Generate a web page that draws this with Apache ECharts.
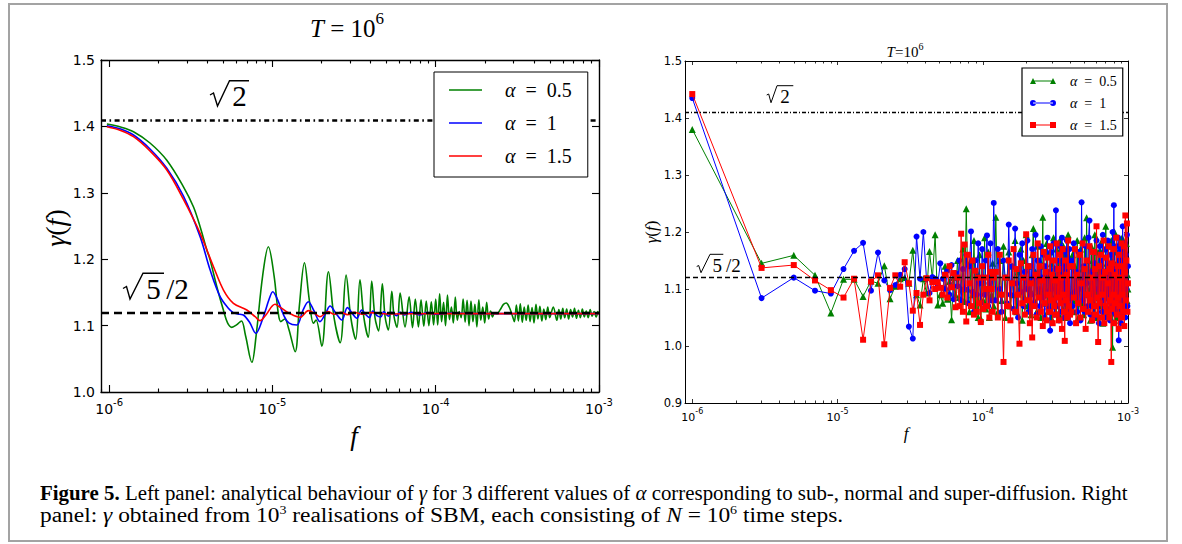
<!DOCTYPE html>
<html><head><meta charset="utf-8">
<script src="https://cdn.jsdelivr.net/npm/echarts@6/dist/echarts.min.js"></script>
<style>
html,body{margin:0;padding:0;background:#fff;}
#wrap{position:relative;width:1182px;height:544px;overflow:hidden;background:#fff;}
#chart{position:absolute;left:0;top:0;width:1182px;height:544px;}
#frame{position:absolute;left:8px;top:3px;width:1156px;height:535px;border:2px solid #a3a3a3;pointer-events:none;}
.cl{position:absolute;left:40px;font-family:'Liberation Serif',serif;font-size:20px;line-height:22px;white-space:nowrap;color:#000;transform-origin:0 0;}
.cl sup{font-size:12px;line-height:0;vertical-align:8px;}
</style></head><body>
<div id="wrap"><div id="chart"></div><div id="frame"></div>
<div class="cl" id="l1" style="top:482px;"><b>Figure 5.</b> Left panel: analytical behaviour of <i>γ</i> for 3 different values of <i>α</i> corresponding to sub-, normal and super-diffusion. Right</div>
<div class="cl" id="l2" style="top:504px;">panel: <i>γ</i> obtained from 10<sup>3</sup> realisations of SBM, each consisting of <i>N</i> = 10<sup>6</sup> time steps.</div>
</div>
<script>
// ---------- axis settings ----------
const X_MIN = -6.05, X_MAX = -3;           // log10(f)
const X_MAJOR = [-6, -5, -4, -3];
const L_Y = {min: 1.0, max: 1.5, interval: 0.1};
const R_Y = {min: 0.9, max: 1.5, interval: 0.1};
const REF_SQRT2 = Math.SQRT2;
const REF_SQRT5_2 = Math.sqrt(5) / 2;
const ALPHA_LABELS = ['0.5', '1', '1.5'];
const COLORS = ['#008000', '#0000ff', '#ff0000'];

// ---------- left panel: analytical curves (x = log10 f) ----------
const L_GREEN_LOGF = [-6.014,-5.93,-5.851,-5.75,-5.647,-5.545,-5.484,-5.443,-5.402,-5.382,-5.341,-5.30,-5.275,-5.249,-5.22,-5.19,-5.165,-5.126,-5.10,-5.06,-5.025,-4.99,-4.965,-4.949,-4.925,-4.90,-4.861,-4.835,-4.804,-4.775,-4.749,-4.733,-4.698,-4.657,-4.622,-4.585,-4.549,-4.52,-4.49,-4.464,-4.44,-4.413,-4.392,-4.372,-4.35,-4.327,-4.31,-4.29,-4.269,-4.255,-4.237,-4.218,-4.188,-4.163,-4.142,-4.125,-4.106,-4.09,-4.073,-4.058,-4.042,-4.027,-4.013,
-4.000,-3.988,-3.976,-3.964,-3.952,-3.940,-3.928,-3.916,-3.904,-3.892,-3.880,-3.868,-3.856,-3.844,-3.832,-3.820,-3.808,-3.796,-3.784,-3.772,-3.760,-3.748,-3.736,-3.724,-3.712,-3.700,-3.688,-3.676,-3.664,-3.652,-3.640,
-3.625,-3.605,-3.585,-3.568,-3.550,-3.532,-3.518,-3.506,-3.494,-3.482,-3.470,-3.458,-3.446,-3.434,-3.422,-3.410,-3.398,-3.386,-3.374,-3.362,-3.350,-3.338,-3.326,-3.314,-3.302,-3.280,-3.258,-3.246,-3.234,-3.222,-3.210,-3.198,-3.186,-3.174,-3.162,-3.150,-3.138,-3.126,-3.114,-3.102,-3.090,-3.078,-3.066,-3.054,-3.042,-3.030,-3.018,-3.006];
const L_GREEN = [1.4036,1.399,1.392,1.375,1.349,1.309,1.279,1.249,1.214,1.199,1.159,1.123,1.104,1.0974,1.101,1.107,1.085,1.0447,1.085,1.175,1.2188,1.175,1.120,1.106,1.110,1.095,1.0607,1.130,1.1947,1.140,1.1035,1.1084,1.069,1.1812,1.111,1.0743,1.176,1.112,1.0794,1.169,1.112,1.0824,1.167,1.112,1.092,1.163,1.113,1.0934,1.1516,1.113,1.0974,1.149,1.098,1.1435,1.097,1.140,1.098,1.139,1.099,1.137,1.100,1.136,1.101,
1.140,1.101,1.148,1.106,1.135,1.100,1.146,1.109,1.128,1.104,1.143,1.108,1.121,1.112,1.140,1.105,1.138,1.100,1.137,1.106,1.132,1.098,1.139,1.108,1.128,1.104,1.135,1.110,1.122,1.113,1.119,
1.118,1.124,1.132,1.134,1.128,1.116,1.106,1.131,1.107,1.133,1.105,1.128,1.108,1.131,1.106,1.127,1.104,1.132,1.110,1.129,1.107,1.125,1.109,1.128,1.112,1.128,1.108,1.124,1.110,1.126,1.112,1.125,1.110,1.124,1.113,1.126,1.111,1.123,1.112,1.125,1.113,1.122,1.112,1.124,1.114,1.121,1.113,1.122];
const L_BLUE_LOGF = [-6.014,-5.93,-5.851,-5.75,-5.647,-5.545,-5.443,-5.382,-5.3204,-5.27,-5.24,-5.20,-5.178,-5.14,-5.102,-5.06,-5.02,-4.998,-4.97,-4.93,-4.90,-4.851,-4.815,-4.78,-4.745,-4.709,-4.675,-4.647,-4.61,-4.575,-4.541,-4.51,-4.484,-4.453,-4.43,-4.406,-4.386,-4.36,-4.337,-4.318,-4.29,-4.27,-4.24,-4.22,-4.19,-4.15,-4.10,-4.05,-4.0,-3.9,-3.8,-3.5,-3.0];
const L_BLUE = [1.401,1.396,1.387,1.366,1.337,1.295,1.234,1.184,1.1435,1.126,1.1195,1.117,1.116,1.105,1.0884,1.11,1.140,1.151,1.14,1.115,1.104,1.1009,1.122,1.136,1.122,1.106,1.118,1.1295,1.118,1.1084,1.127,1.118,1.111,1.1235,1.117,1.112,1.122,1.115,1.113,1.121,1.114,1.120,1.115,1.120,1.116,1.120,1.116,1.1195,1.117,1.119,1.118,1.118,1.118];
const L_RED_LOGF = [-6.014,-5.93,-5.851,-5.75,-5.647,-5.545,-5.443,-5.361,-5.300,-5.239,-5.157,-5.106,-5.076,-5.04,-4.984,-4.95,-4.90,-4.831,-4.78,-4.74,-4.709,-4.66,-4.62,-4.58,-4.54,-4.50,-4.45,-4.40,-4.30,-4.0,-3.0];
const L_RED = [1.3995,1.394,1.3845,1.363,1.3343,1.290,1.239,1.1887,1.1536,1.1336,1.1235,1.1134,1.1074,1.116,1.1321,1.127,1.119,1.1125,1.1225,1.118,1.1134,1.121,1.117,1.120,1.1165,1.120,1.117,1.1195,1.1175,1.118,1.118];

// ---------- right panel: simulated values on frequency grid f = m * 1e-6 ----------
const R_F_MULT = [];
for (let m = 1; m <= 119; m += 2) R_F_MULT.push(m);
for (let m = 123; m <= 399; m += 4) R_F_MULT.push(m);
for (let m = 407; m <= 999; m += 8) R_F_MULT.push(m);

const R_GREEN = [
1.380,1.145,1.159,1.124,1.058,1.117,1.117,1.087,1.114,1.110,
1.141,1.083,1.105,1.118,1.120,1.110,1.168,1.090,1.072,1.118,
1.093,1.166,1.118,1.195,1.072,1.090,1.075,1.140,1.082,1.113,
1.046,1.120,1.090,1.150,1.085,1.100,1.170,1.078,1.241,1.100,
1.060,1.150,1.090,1.185,1.070,1.130,1.050,1.160,1.048,1.120,
1.080,1.190,1.065,1.100,1.165,1.050,1.130,1.090,1.145,1.070,
1.226,1.060,1.150,1.080,1.175,1.050,1.120,1.165,1.070,1.140,
1.090,1.185,1.060,1.130,1.100,1.170,1.045,1.150,1.085,1.195,
1.070,1.140,1.100,1.055,1.160,1.206,1.080,1.130,1.060,1.175,
1.095,1.150,1.050,1.120,1.226,1.075,1.140,1.090,1.180,1.060,
1.130,1.100,1.165,1.050,1.145,1.085,1.190,1.070,1.125,1.060,
1.170,1.095,1.140,1.055,1.185,1.080,1.150,1.100,1.065,1.175,
1.090,1.135,1.050,1.160,1.110,1.075,1.195,1.060,1.140,1.085,
1.090,1.160,1.060,1.140,1.080,1.185,1.050,1.120,1.170,1.075,
1.135,1.055,1.190,1.090,1.225,1.065,1.150,1.100,1.045,1.175,
1.080,1.140,1.060,1.195,1.095,1.130,1.050,1.165,1.085,1.120,
1.180,1.070,1.145,1.040,1.170,1.100,1.060,1.210,1.085,1.130,
1.055,1.175,1.095,1.140,1.065,1.185,1.110,0.998,1.150,1.080,
1.200,1.070,1.130,1.050,1.165,1.090,1.140,1.060,1.180,1.100,
1.045,1.155,1.085,1.190,1.070,1.135,1.055,1.170,1.095,1.150,
1.065,1.180,1.080,1.125,1.100];
const R_BLUE = [
1.435,1.084,1.120,1.097,1.092,1.135,1.167,1.181,1.097,1.164,
1.115,1.098,1.107,1.125,1.135,1.034,1.013,1.192,1.118,1.200,
1.118,1.093,1.121,1.118,1.108,1.145,1.118,1.100,1.132,1.090,
1.142,1.082,1.128,1.105,1.150,1.080,1.135,1.100,1.160,1.075,
1.140,1.201,1.095,1.060,1.150,1.090,1.180,1.110,1.075,1.170,
1.120,1.090,1.150,1.194,1.070,1.110,1.180,1.080,1.130,1.251,
1.080,1.170,1.100,1.060,1.150,1.120,1.075,1.213,1.090,1.140,
1.065,1.206,1.110,1.050,1.160,1.095,1.180,1.070,1.130,1.100,
1.185,1.060,1.140,1.090,1.170,1.075,1.120,1.195,1.055,1.150,
1.100,1.070,1.175,1.120,1.085,1.160,1.050,1.140,1.095,1.190,
1.065,1.130,1.027,1.165,1.100,1.080,1.180,1.055,1.135,1.238,
1.070,1.150,1.095,1.045,1.175,1.110,1.060,1.190,1.085,1.140,
1.050,1.165,1.100,1.075,1.185,1.060,1.145,1.090,1.170,1.040,
1.150,1.070,1.180,1.095,1.130,1.060,1.165,1.100,1.045,1.252,
1.080,1.140,1.060,1.175,1.110,1.070,1.190,1.220,1.055,1.130,
1.090,1.165,1.050,1.145,1.100,1.185,1.070,1.120,1.040,1.175,
1.095,1.150,1.060,1.195,1.080,1.130,1.050,1.170,1.105,1.065,
1.185,1.090,1.140,1.045,1.160,1.075,1.125,1.200,1.060,1.247,
1.085,1.135,1.055,1.175,1.100,1.065,1.190,1.010,1.150,1.080,
1.170,1.040,1.130,1.095,1.210,1.060,1.145,1.085,1.180,1.050,
1.160,1.100,1.195,1.070,1.140];
const R_RED = [
1.442,1.137,1.142,1.115,1.098,1.085,1.118,1.011,1.113,1.124,
1.003,1.102,1.124,1.104,1.147,1.110,1.062,1.093,1.037,1.090,
1.119,1.080,1.112,1.100,1.112,1.102,1.090,1.125,1.085,1.140,
1.103,1.128,1.068,1.120,1.070,1.197,1.060,1.178,1.043,1.160,
1.110,1.070,1.150,1.055,1.132,1.060,1.120,1.075,1.042,1.140,
1.065,1.120,1.100,1.070,1.160,1.050,1.130,1.100,1.060,1.120,
1.130,1.050,1.160,1.090,0.972,1.120,1.070,1.150,1.045,1.110,
1.170,1.060,1.135,1.090,1.004,1.145,1.075,1.120,1.055,1.196,
1.080,1.140,1.040,1.110,1.015,1.160,1.070,1.125,1.050,1.180,
1.085,1.140,1.060,1.115,1.035,1.165,1.075,1.130,1.045,1.155,
1.090,1.060,1.175,1.080,1.125,1.040,1.150,1.070,1.115,1.055,
1.180,1.085,1.135,1.045,1.160,1.075,1.120,1.030,1.170,1.090,
1.060,1.009,1.150,1.080,1.125,1.050,1.185,1.070,1.140,1.055,
1.060,1.140,1.085,1.170,1.040,1.125,1.075,1.160,1.050,1.110,
1.180,1.065,1.135,1.030,1.150,1.090,1.060,1.175,1.080,1.120,
1.045,1.165,1.070,1.135,1.055,1.210,1.085,1.007,1.140,1.075,
1.160,1.050,1.120,1.090,1.185,1.040,1.130,1.070,1.155,1.060,
1.110,1.175,1.050,1.135,1.080,0.972,1.145,1.065,1.170,1.090,
1.040,1.125,1.075,1.190,1.055,1.140,1.085,1.030,1.160,1.070,
1.120,1.050,1.180,1.090,1.140,1.060,1.175,1.035,1.130,1.229,
1.080,1.150,1.215,1.060,1.110];

// ---------- helpers ----------
const SERIF = "'Liberation Serif','DejaVu Serif',serif";
const SANS = "'DejaVu Sans',sans-serif";
const X_MINOR = [];
for (let d = -7; d <= -4; d++) for (let k = 2; k <= 9; k++) {
  const v = Math.log10(k) + d; if (v > X_MIN && v < X_MAX) X_MINOR.push(v);
}
function zipLog(lx, ly) { return lx.map((x, i) => [x, ly[i]]); }
function zipMult(ly) { return ly.map((y, i) => [Math.log10(R_F_MULT[i] * 1e-6), y]); }

function xAxes(g, big) {
  const lw = big ? 1.4 : 1;
  const majLen = big ? 7 : 4, minLen = big ? 3.5 : 2.5;
  const fs = big ? 14 : 11, ss = big ? 10 : 8;
  const lab = {
    show: true, customValues: X_MAJOR, margin: big ? 5 : 4, color: '#000',
    formatter: v => '{b|10}{s|' + Math.round(v) + '}',
    rich: {
      b: {fontFamily: SANS, fontSize: fs, lineHeight: fs + 5, verticalAlign: 'bottom', color: '#000'},
      s: {fontFamily: SANS, fontSize: ss, lineHeight: ss + 1, verticalAlign: 'top', color: '#000'}
    }
  };
  const base = (pos, ticks, len, showLine, label) => ({
    type: 'value', gridIndex: g, position: pos, offset: 0, min: X_MIN, max: X_MAX,
    axisLine: {show: showLine, onZero: false, lineStyle: {color: '#000', width: lw}},
    axisTick: {show: true, inside: true, length: len, customValues: ticks, lineStyle: {color: '#000', width: lw * 0.8}},
    axisLabel: label ? label : {show: false},
    splitLine: {show: false}, minorTick: {show: false}
  });
  return [base('bottom', X_MAJOR, majLen, true, lab), base('bottom', X_MINOR, minLen, false, null),
          base('top', X_MAJOR, majLen, true, null), base('top', X_MINOR, minLen, false, null)];
}
function yAxes(g, big, rng) {
  const lw = big ? 1.4 : 1, len = big ? 7 : 4;
  const mk = (pos, label) => ({
    type: 'value', gridIndex: g, position: pos, offset: 0, min: rng.min, max: rng.max, interval: rng.interval,
    axisLine: {show: true, onZero: false, lineStyle: {color: '#000', width: lw}},
    axisTick: {show: true, inside: true, length: len, lineStyle: {color: '#000', width: lw * 0.8}},
    axisLabel: label ? {show: true, margin: big ? 6 : 3, color: '#000', fontFamily: SANS, fontSize: big ? 14 : 11.5,
                        formatter: v => v.toFixed(1)} : {show: false},
    splitLine: {show: false}
  });
  return [mk('left', true), mk('right', false)];
}

const LEFT_NAMES = ['L0', 'L1', 'L2'], RIGHT_NAMES = ['R0', 'R1', 'R2'];
const nameToLabel = {};
LEFT_NAMES.forEach((n, i) => nameToLabel[n] = ALPHA_LABELS[i]);
RIGHT_NAMES.forEach((n, i) => nameToLabel[n] = ALPHA_LABELS[i]);

const leftData = [zipLog(L_GREEN_LOGF, L_GREEN), zipLog(L_BLUE_LOGF, L_BLUE), zipLog(L_RED_LOGF, L_RED)];
const rightData = [zipMult(R_GREEN), zipMult(R_BLUE), zipMult(R_RED)];
const SYMBOLS = ['triangle', 'circle', 'rect'];
const SYMSIZE = [7, 6, 6];

const series = [];
leftData.forEach((d, i) => series.push({
  name: LEFT_NAMES[i], type: 'line', xAxisIndex: 0, yAxisIndex: 0, data: d, symbol: 'none',
  smooth: 0.35, color: COLORS[i], lineStyle: {width: 1.6, color: COLORS[i]}, silent: true, z: 2 + i
}));
series.push({
  type: 'line', xAxisIndex: 0, yAxisIndex: 0, data: [], z: 10, silent: true,
  markLine: {silent: true, symbol: ['none', 'none'], label: {show: false}, animation: false,
    data: [{yAxis: REF_SQRT2, lineStyle: {color: '#000', width: 2.6, type: [5, 3.5, 1.6, 3.5]}},
           {yAxis: REF_SQRT5_2, lineStyle: {color: '#000', width: 2.4, type: [8, 5]}}]}
});
rightData.forEach((d, i) => series.push({
  name: RIGHT_NAMES[i], type: 'line', xAxisIndex: 4, yAxisIndex: 2, data: d,
  symbol: SYMBOLS[i], symbolSize: SYMSIZE[i], showSymbol: true, color: COLORS[i],
  itemStyle: {color: COLORS[i]}, lineStyle: {width: 1, color: COLORS[i]}, silent: true, z: 2 + i
}));
series.push({
  type: 'line', xAxisIndex: 4, yAxisIndex: 2, data: [], z: 10, silent: true,
  markLine: {silent: true, symbol: ['none', 'none'], label: {show: false}, animation: false,
    data: [{yAxis: REF_SQRT2, lineStyle: {color: '#000', width: 1.3, type: [4, 2, 1, 2]}},
           {yAxis: REF_SQRT5_2, lineStyle: {color: '#000', width: 1.3, type: [5, 3]}}]}
});

const ICON_R = [
  'path://M0,6L3,0L6,6Z M20,6L23,0L26,6Z M3,2.6H23V3.6H3Z',
  'path://M0,3a3,3 0 1,0 6,0a3,3 0 1,0 -6,0Z M20,3a3,3 0 1,0 6,0a3,3 0 1,0 -6,0Z M3,2.5H23V3.5H3Z',
  'path://M0,0H6V6H0Z M20,0H26V6H20Z M3,2.5H23V3.5H3Z'
];

function legendFmt(size, lh, gap) {
  return {
    formatter: n => '{sp| }{a|α}\u2002=\u2002' + nameToLabel[n],
    textStyle: {fontFamily: SERIF, fontSize: size, lineHeight: lh, color: '#000',
      rich: {sp: {width: gap, fontSize: size, lineHeight: lh},
             a: {fontFamily: SERIF, fontStyle: 'italic', fontSize: size, lineHeight: lh, color: '#000'}}}
  };
}

// ---------- annotations (text / radical decorations) ----------
function rad(points, lw) { return {type: 'polyline', shape: {points}, style: {stroke: '#000', lineWidth: lw, fill: null}, z: 20, silent: true}; }
function mtxt(x, y, text, size) { return {type: 'text', x, y, z: 20, silent: true, style: {text, fontFamily: SERIF, fontSize: size, fill: '#000', align: 'center', verticalAlign: 'middle'}}; }
function richTxt(x, y, text, rich, rot) { return {type: 'text', x, y, rotation: rot || 0, z: 20, silent: true, style: {text, rich, fill: '#000', align: 'center', verticalAlign: 'middle'}}; }
function titleRich(sz, ssz, lift) {
  return {i: {fontFamily: SERIF, fontStyle: 'italic', fontSize: sz, lineHeight: sz + lift, verticalAlign: 'bottom'},
          n: {fontFamily: SERIF, fontSize: sz, lineHeight: sz + lift, verticalAlign: 'bottom'},
          s: {fontFamily: SERIF, fontSize: ssz, lineHeight: ssz, verticalAlign: 'top'}};
}
function gRich(sz) {
  return {g: {fontFamily: SERIF, fontStyle: 'italic', fontSize: sz}, n: {fontFamily: SERIF, fontSize: sz}};
}

const graphics = [
  richTxt(347, 25, '{i|T}{n| = 10}{s|6}', titleRich(25, 17, 6)),
  richTxt(905, 50, '{i|T}{n|=10}{s|6}', titleRich(15, 10, 3)),
  richTxt(55, 228, '{g|γ}{n|(}{g|f}{n|)}', gRich(28), Math.PI / 2),
  richTxt(651, 232, '{g|γ}{n|(}{g|f}{n|)}', gRich(17), Math.PI / 2),
  richTxt(354, 436, '{g|f}', gRich(27)),
  richTxt(906, 433, '{g|f}', gRich(17)),
  rad([[210, 95], [213.5, 93], [217.5, 106], [229.5, 80.7], [249, 80.7]], 1.4),
  mtxt(239.5, 96, '2', 29),
  rad([[123, 288.5], [126.5, 286.5], [130, 299], [143, 273.3], [164, 273.3]], 1.4),
  mtxt(153.5, 288.5, '5', 29),
  mtxt(177.5, 288.5, '/2', 29),
  rad([[766.7, 95], [768.7, 94], [771, 102.7], [777, 85.7], [793.3, 85.7]], 1),
  mtxt(785, 96, '2', 19),
  rad([[696.7, 266.5], [698.7, 265.5], [701, 272.7], [710, 254.3], [723.3, 254.3]], 1),
  mtxt(717.3, 265.5, '5', 19),
  mtxt(733.3, 265.5, '/2', 19)
];

const chart = echarts.init(document.getElementById('chart'), null, {renderer: 'svg', width: 1182, height: 544});
chart.setOption({
  backgroundColor: '#fff',
  animation: false,
  grid: [
    {left: 101, top: 60, width: 498, height: 332, containLabel: false},
    {left: 685, top: 61, width: 443, height: 342, containLabel: false}
  ],
  xAxis: [...xAxes(0, true), ...xAxes(1, false)],
  yAxis: [...yAxes(0, true, L_Y), ...yAxes(1, false, R_Y)],
  legend: [
    Object.assign({
      data: LEFT_NAMES.map(n => ({name: n, icon: 'path://M0,0H33V1.6H0Z'})),
      orient: 'vertical', left: 434, top: 72, padding: [7, 16, 10, 15], itemGap: 11,
      itemWidth: 33, itemHeight: 1.6, borderColor: '#000', borderWidth: 1, borderRadius: 0,
      backgroundColor: '#fff', selectedMode: false, z: 30
    }, legendFmt(20, 22, 18)),
    Object.assign({
      data: RIGHT_NAMES.map((n, i) => ({name: n, icon: ICON_R[i]})),
      orient: 'vertical', left: 1022, top: 68, padding: [5, 6, 3, 8], itemGap: 6,
      itemWidth: 26, itemHeight: 6, borderColor: '#000', borderWidth: 1.2, borderRadius: 0,
      backgroundColor: '#fff', selectedMode: false, z: 30
    }, legendFmt(14, 16, 9))
  ],
  graphic: graphics,
  series
});

// caption lines: fit each line to its width in the reference (offsetWidth ignores transforms)
const CAPTION_WIDTHS = {l1: 1088, l2: 803};
function fitCaption() {
  Object.keys(CAPTION_WIDTHS).forEach(id => {
    const el = document.getElementById(id);
    const w = el.offsetWidth;
    if (w > 0) el.style.transform = 'scaleX(' + (CAPTION_WIDTHS[id] / w) + ')';
  });
}
fitCaption();
if (document.fonts && document.fonts.ready) document.fonts.ready.then(fitCaption);
</script></body></html>
